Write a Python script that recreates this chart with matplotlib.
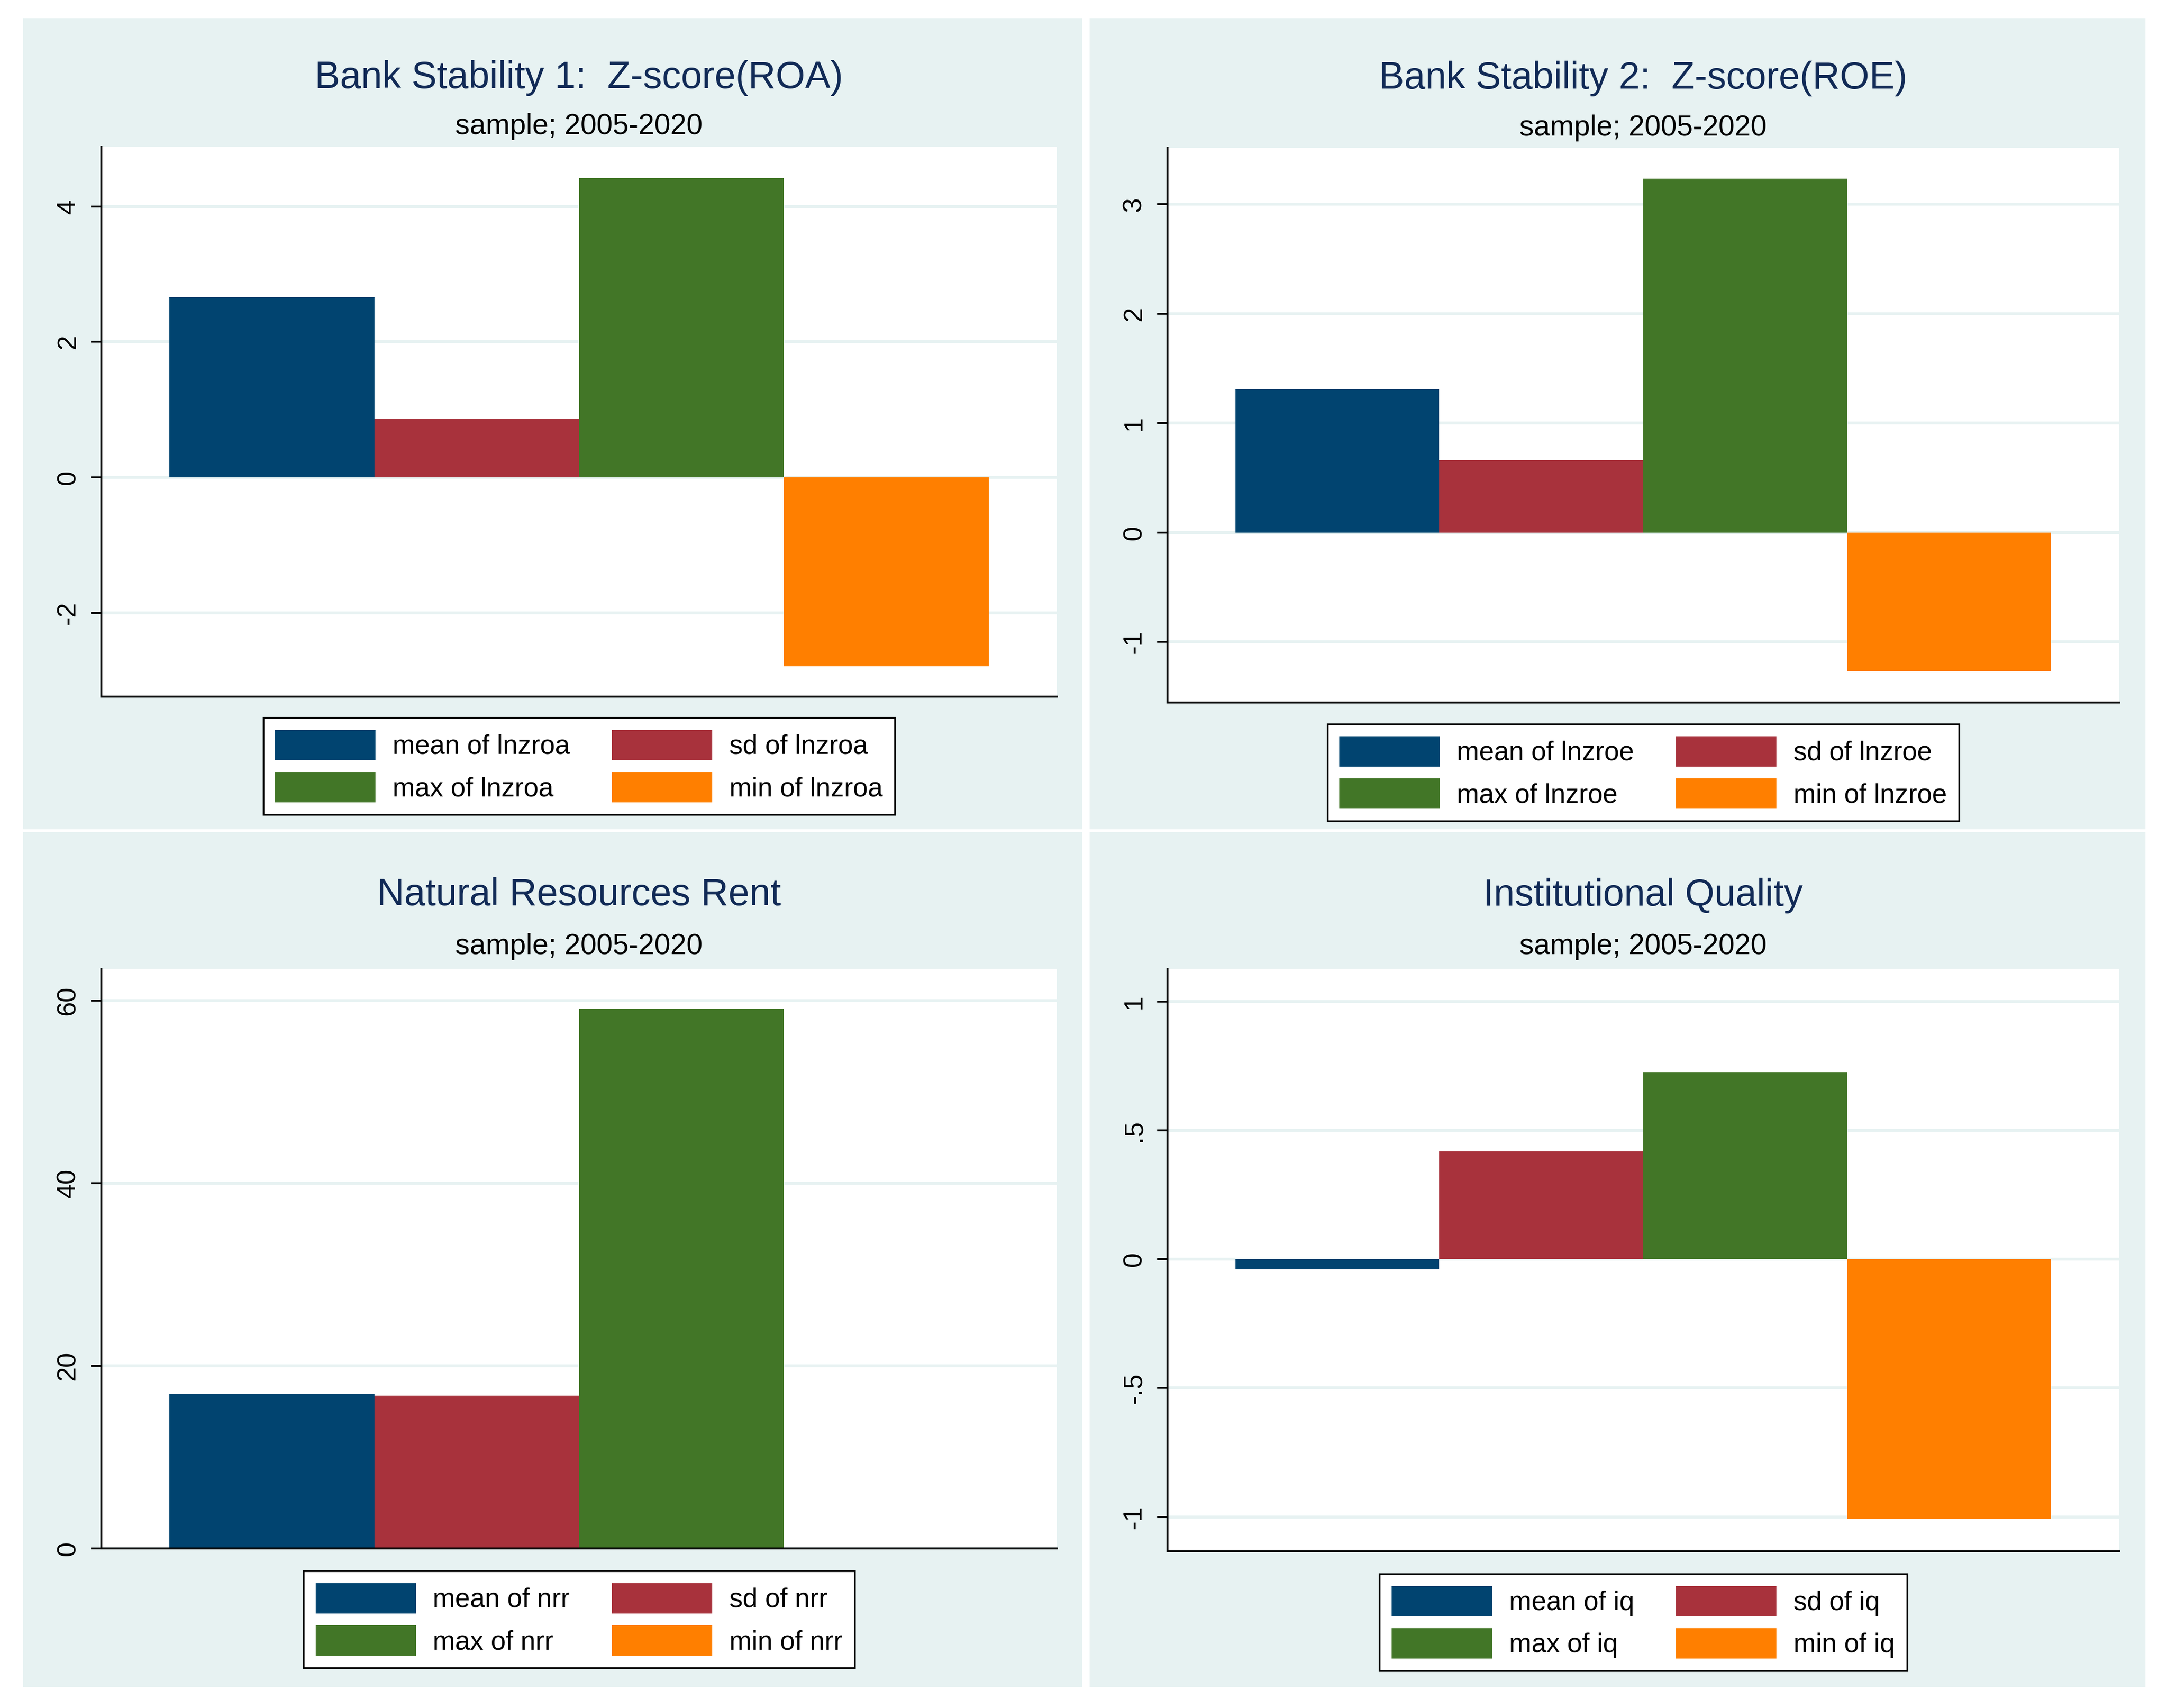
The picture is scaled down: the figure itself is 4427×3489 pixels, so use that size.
import matplotlib
matplotlib.use("Agg")
import matplotlib.pyplot as plt
from matplotlib import font_manager as fm
from matplotlib.patches import Rectangle

# ---------------- data ----------------
stats = ["mean", "sd", "max", "min"]
variables = ["lnzroa", "lnzroe", "nrr", "iq"]
titles = ["Bank Stability 1:  Z-score(ROA)",
          "Bank Stability 2:  Z-score(ROE)",
          "Natural Resources Rent",
          "Institutional Quality"]
subtitle = "sample; 2005-2020"

roa_values = [2.66, 0.863, 4.42, -2.79]
roe_values = [1.308, 0.659, 3.235, -1.268]
nrr_values = [16.92, 16.73, 59.12, 0.0]
iq_values = [-0.039, 0.419, 0.727, -1.009]

roa_ticks = [-2, 0, 2, 4]
roa_ticklabels = ["-2", "0", "2", "4"]
roe_ticks = [-1, 0, 1, 2, 3]
roe_ticklabels = ["-1", "0", "1", "2", "3"]
nrr_ticks = [0, 20, 40, 60]
nrr_ticklabels = ["0", "20", "40", "60"]
iq_ticks = [-1, -0.5, 0, 0.5, 1]
iq_ticklabels = ["-1", "-.5", "0", ".5", "1"]

# ---------------- style ----------------
W, H, DPI = 4427, 3489, 100
bar_colors = ["#014470", "#A8323C", "#427627", "#FF7F00"]
bg_color = "#E7F2F2"
title_color = "#112A56"


def has_font(name):
    try:
        fm.findfont(fm.FontProperties(family=name), fallback_to_default=False)
        return True
    except Exception:
        return False


if has_font("Liberation Sans Narrow"):
    text_family = "Liberation Sans Narrow"
    k = 1.04
else:
    text_family = "Liberation Sans"
    k = 0.895
tick_family = "Liberation Sans" if has_font("Liberation Sans") else "DejaVu Sans"

plt.rcParams["axes.unicode_minus"] = False

title_size = 62.3 * k
sub_size = 47.5 * k
leg_size = 44.0 * k
leg_px = leg_size * DPI / 72.0
swatch_w, swatch_h = 205, 62
leg_handleheight = (swatch_h / leg_px - 0.245) / 0.65

fig = plt.figure(figsize=(W / DPI, H / DPI), dpi=DPI)
fig.patch.set_facecolor("white")

panels = [
    dict(values=roa_values, ticks=roa_ticks, labels=roa_ticklabels, ylim=(-3.24, 4.88),
         bg=(47, 37, 2211, 1694), ax=(207, 300, 2159, 1423), tb=180, sb=274, lt=1466),
    dict(values=roe_values, ticks=roe_ticks, labels=roe_ticklabels, ylim=(-1.553, 3.515),
         bg=(2226, 37, 4383, 1694), ax=(2385, 302, 4329, 1435), tb=181, sb=277, lt=1479),
    dict(values=nrr_values, ticks=nrr_ticks, labels=nrr_ticklabels, ylim=(0, 63.5),
         bg=(47, 1700, 2211, 3446), ax=(207, 1979, 2159, 3163), tb=1849, sb=1949, lt=3209),
    dict(values=iq_values, ticks=iq_ticks, labels=iq_ticklabels, ylim=(-1.134, 1.128),
         bg=(2226, 1700, 4383, 3446), ax=(2385, 1979, 4329, 3169), tb=1850, sb=1949, lt=3215),
]

for i, p in enumerate(panels):
    x0, y0, x1, y1 = p["bg"]
    fig.patches.append(Rectangle((x0 / W, 1 - y1 / H), (x1 - x0) / W, (y1 - y0) / H,
                                 transform=fig.transFigure, facecolor=bg_color,
                                 edgecolor="none", zorder=-10))
    ax0, ay0, ax1, ay1 = p["ax"]
    ax = fig.add_axes([ax0 / W, 1 - ay1 / H, (ax1 - ax0) / W, (ay1 - ay0) / H])
    ax.set_facecolor("white")
    xs = list(range(len(stats)))
    bars = ax.bar(xs, p["values"], width=1.0, align="edge", color=bar_colors,
                  edgecolor="none", zorder=3)
    ax.set_xlim(-1 / 3, len(stats) + 1 / 3)
    ax.set_ylim(*p["ylim"])
    ax.set_xticks([])
    ax.set_yticks(p["ticks"])
    ax.set_yticklabels(p["labels"], rotation=90, va="center", family=tick_family)
    ax.tick_params(axis="y", direction="out", length=15, width=2.7, pad=16,
                   labelsize=39, colors="black")
    ax.yaxis.grid(True, color=bg_color, linewidth=4.3, zorder=0)
    ax.set_axisbelow(True)
    for s in ["top", "right"]:
        ax.spines[s].set_visible(False)
    for s in ["left", "bottom"]:
        ax.spines[s].set_linewidth(2.9)
        ax.spines[s].set_color("black")
        ax.spines[s].set_zorder(5)

    cx = (ax0 + ax1) / 2
    fig.text(cx / W, 1 - p["tb"] / H, titles[i], ha="center", va="baseline",
             fontsize=title_size, color=title_color, family=text_family)
    fig.text(cx / W, 1 - p["sb"] / H, subtitle, ha="center", va="baseline",
             fontsize=sub_size, color="black", family=text_family)

    labels = [f"{s} of {variables[i]}" for s in stats]
    order = [0, 2, 1, 3]
    leg = ax.legend([bars.patches[j] for j in order], [labels[j] for j in order],
                    ncol=2, loc="upper center",
                    bbox_to_anchor=(cx / W, 1 - p["lt"] / H),
                    bbox_transform=fig.transFigure, borderaxespad=0,
                    frameon=True, fancybox=False, framealpha=1,
                    edgecolor="black", facecolor="white",
                    prop=fm.FontProperties(family=text_family, size=leg_size),
                    handlelength=swatch_w / leg_px, handleheight=leg_handleheight,
                    handletextpad=35 / leg_px, columnspacing=86 / leg_px,
                    labelspacing=0.45, borderpad=0.45)
    leg.get_frame().set_linewidth(2.5)

fig.savefig("out.png", dpi=DPI, facecolor="white")
